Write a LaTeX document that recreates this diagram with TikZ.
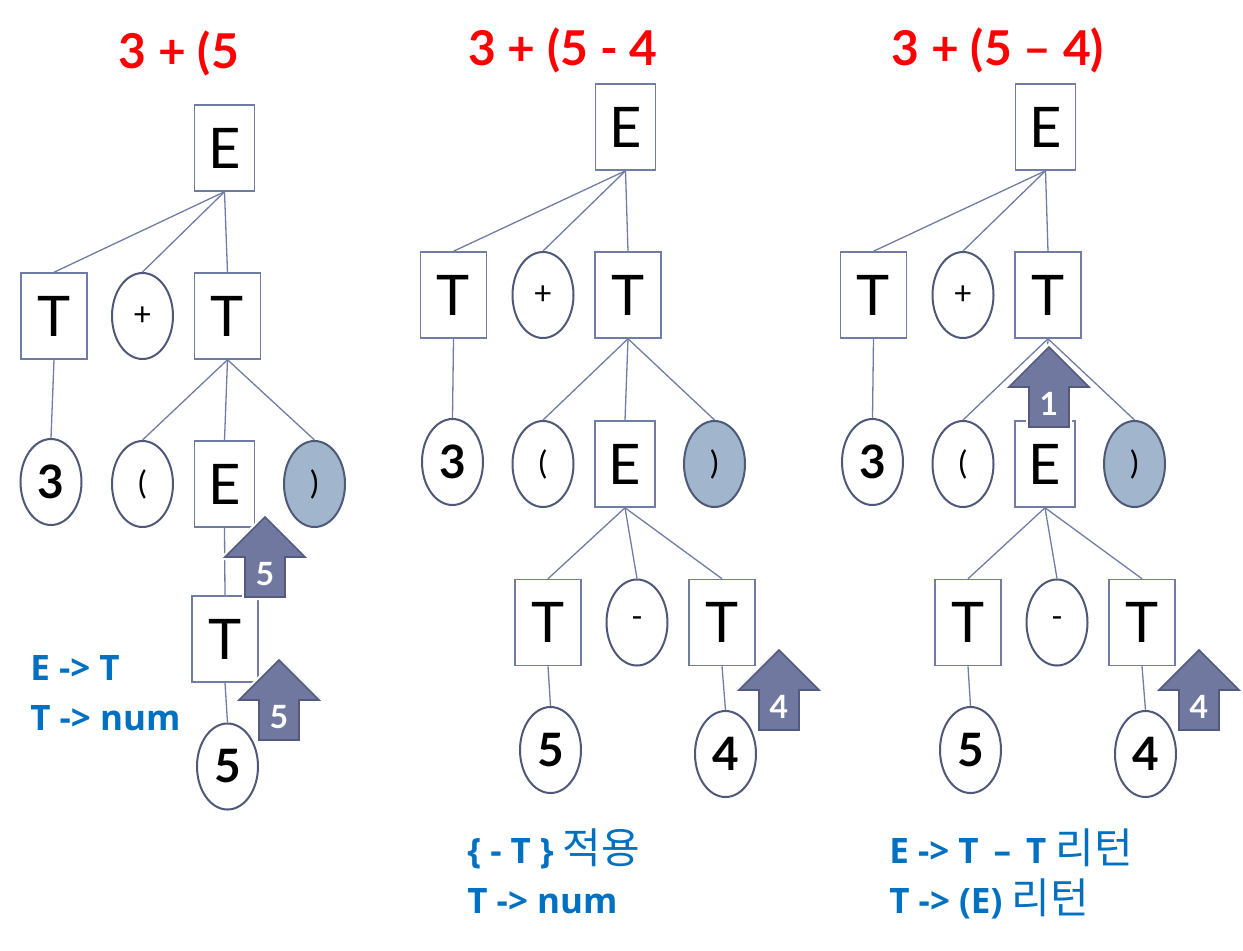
\documentclass[tikz,border=0pt]{standalone}
\usepackage{fontspec}
\setmainfont{Lato}
\newfontfamily\blufont{Open Sans}
\newfontfamily\kor{Noto Sans CJK KR}
\usetikzlibrary{shapes.geometric}
\definecolor{edgec}{RGB}{112,124,164}
\definecolor{leafc}{RGB}{78,88,120}
\definecolor{shutc}{RGB}{161,182,204}
\definecolor{valc}{RGB}{112,120,160}
\definecolor{valdraw}{RGB}{82,90,128}
\definecolor{titlered}{RGB}{255,0,0}
\definecolor{rulblue}{RGB}{0,112,192}

% up arrow carrying a value, tip at (#1,#2)
\newcommand\valarrow[4]{%
  \draw[white, line width=3pt, line join=miter]
    (#1,#2) -- ++(40,40) -- ++(-20,0) -- ++(0,40) -- ++(-40,0) -- ++(0,-40) -- ++(-20,0) -- cycle;
  \draw[valarr] (#1,#2) -- ++(40,40) -- ++(-20,0) -- ++(0,40) -- ++(-40,0) -- ++(0,-40) -- ++(-20,0) -- cycle;
  \node[vallabel] (#3) at (#1,#2+57) {#4};}
% korean words in the rule notes
\newcommand\krword[1]{{\kor\mdseries\fontsize{21}{25}\selectfont #1}}

\begin{document}
\begin{tikzpicture}[x=0.5pt, y=-0.5pt,
   box/.style={draw=edgec, line width=0.75pt, fill=white, inner sep=0pt, minimum width=30pt, minimum height=43pt, font=\fontsize{28}{30}\selectfont},
   tbox/.style={box, minimum width=33pt},
   leaf/.style={ellipse, draw=leafc, line width=1pt, fill=white, inner sep=0pt, minimum width=30.5pt, minimum height=43pt, font=\fontsize{16}{18}\selectfont},
   num/.style={leaf, font=\bfseries\fontsize{23}{25}\selectfont},
   shut/.style={leaf, fill=shutc},
   edge/.style={draw=edgec, line width=0.65pt},
   valarr/.style={fill=valc, draw=valdraw, line width=0.8pt, line join=miter},
   vallabel/.style={text=white, inner sep=0pt, font=\bfseries\fontsize{16}{18}\selectfont},
   title/.style={text=titlered, anchor=base, font=\bfseries\fontsize{24}{28}\selectfont},
   rules/.style={text=rulblue, align=left, anchor=base west, inner sep=0pt, font=\blufont\bfseries\fontsize{17.5}{25}\selectfont}]
  \useasboundingbox (0,0) rectangle (1243,950);

  % titles
  \node[title] (ttl1) at (179,68) {3 + (5};
  \node[title] (ttl2) at (563,65) {3 + (5 - 4};
  \node[title] (ttl3) at (998,65) {3 + (5 – 4)};

  % first tree
  \node[box] (aE) at (224.5,148) {E};
  \node[tbox] (aT1) at (54,316) {T};
  \node[leaf] (aplus) at (142.5,316) {+};
  \node[tbox] (aT2) at (227.5,316) {T};
  \node[num] (a3) at (51,482) {3};
  \node[leaf] (alp) at (142.5,484) {(};
  \node[box] (aE2) at (224.5,484) {E};
  \node[shut] (arp) at (314.5,484) {)};
  \node[tbox] (aT3) at (225,639) {T};
  \node[num] (a5) at (227.5,766.5) {5};

  \draw[edge] (aE.south) -- (aT1.north);
  \draw[edge] (aE.south) -- (aplus.north);
  \draw[edge] (aE.south) -- (aT2.north);
  \draw[edge] (aT1.south) -- (a3.north);
  \draw[edge] (aT2.south) -- (alp.north);
  \draw[edge] (aT2.south) -- (aE2.north);
  \draw[edge] (aT2.south) -- (arp.north);
  \draw[edge] (aE2.south) -- (aT3.north);
  \draw[edge] (aT3.south) -- (a5.north);

  \valarrow{265}{517}{av1}{5}
  \valarrow{279}{660}{av2}{5}

  % second and third tree (same shape)
  \foreach \t/\dx in {b/0,c/420}{
    \begin{scope}[shift={(\dx,0)}]
      \node[box] (\t E) at (625.5,127) {E};
      \node[tbox] (\t T1) at (453.5,295) {T};
      \node[leaf] (\t plus) at (543,295) {+};
      \node[tbox] (\t T2) at (628,295) {T};
      \node[num] (\t 3) at (452.5,462) {3};
      \node[leaf] (\t lp) at (543,464) {(};
      \node[box] (\t E2) at (625,464) {E};
      \node[shut] (\t rp) at (714.5,464) {)};
      \node[tbox] (\t T3) at (548,622.5) {T};
      \node[leaf] (\t minus) at (637,622.5) {-};
      \node[tbox] (\t T4) at (722,622.5) {T};
      \node[num] (\t 5) at (550.5,750) {5};
      \node[num] (\t 4) at (725.5,754) {4};

      \draw[edge] (\t E.south) -- (\t T1.north);
      \draw[edge] (\t E.south) -- (\t plus.north);
      \draw[edge] (\t E.south) -- (\t T2.north);
      \draw[edge] (\t T1.south) -- (\t 3.north);
      \draw[edge] (\t T2.south) -- (\t lp.north);
      \draw[edge] (\t T2.south) -- (\t E2.north);
      \draw[edge] (\t T2.south) -- (\t rp.north);
      \draw[edge] (\t E2.south) -- (\t T3.north);
      \draw[edge] (\t E2.south) -- (\t minus.north);
      \draw[edge] (\t E2.south) -- (\t T4.north);
      \draw[edge] (\t T3.south) -- (\t 5.north);
      \draw[edge] (\t T4.south) -- (\t 4.north);

      \valarrow{779}{650}{\t v4}{4}
    \end{scope}
  }
  \valarrow{1049}{347}{cv1}{1}

  % applied rules
  \node[rules] (rule1) at (30,730) {E -> T\\T -> num};
  \node[rules] (rule2) at (467,913) {\{ - T \} \krword{적용}\\T -> num};
  \node[rules] (rule3) at (889,913) {E -> T \,–\, T \krword{리턴}\\T -> (E) \krword{리턴}};
\end{tikzpicture}
\end{document}
